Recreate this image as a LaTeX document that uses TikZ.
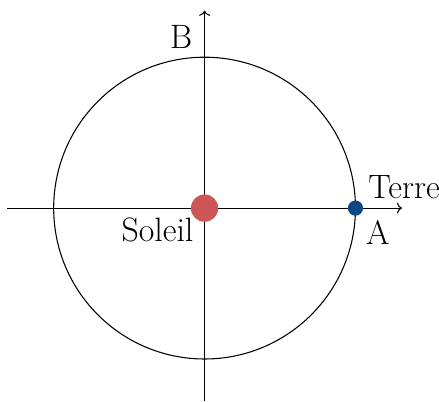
\documentclass[tikz,border=0pt]{standalone}
\usetikzlibrary{arrows.meta}
\definecolor{sunred}{RGB}{205,85,85}
\definecolor{earthblue}{RGB}{12,72,130}
\begin{document}
\begin{tikzpicture}[
  axis/.style={->, line width=0.6pt},
  lbl/.style={font=\fontsize{19}{23}\selectfont, inner sep=0pt}
]
\useasboundingbox (-4.04,-3.81) rectangle (4.63,4.11);
\coordinate (O) at (0,0);
\coordinate (xl) at (-3.9,0);
\coordinate (xr) at (3.9,0);
\coordinate (yb) at (0,-3.8);
\coordinate (yt) at (0,3.9);
\draw[axis] (xl) -- (xr);
\draw[axis] (yb) -- (yt);
\draw[line width=0.6pt] (O) circle (2.98);
\node[circle, fill=sunred, minimum size=0.54cm, inner sep=0pt] (sun) at (O) {};
\node[circle, fill=earthblue, minimum size=0.3cm, inner sep=0pt] (earth) at (2.98,0) {};
\node[lbl] (terre) at (3.94,0.42) {Terre};
\node[lbl] (a) at (3.42,-0.49) {A};
\node[lbl] (b) at (-0.46,3.38) {B};
\node[lbl] (soleil) at (-0.93,-0.43) {Soleil};
\end{tikzpicture}
\end{document}
